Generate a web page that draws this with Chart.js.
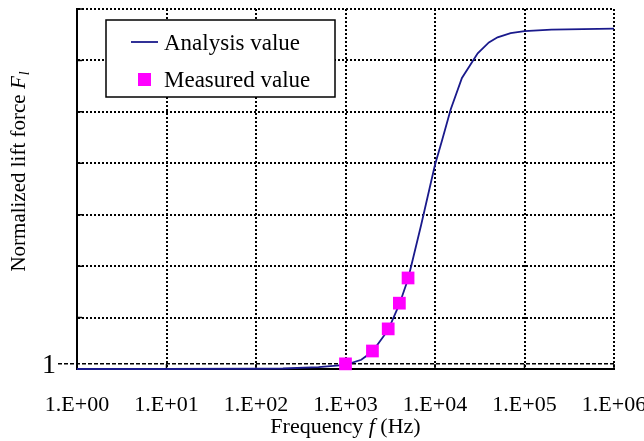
<!DOCTYPE html>
<html>
<head>
<meta charset="utf-8">
<script src="https://cdn.jsdelivr.net/npm/chart.js@4.4.0/dist/chart.umd.min.js"></script>
<style>
  html, body { margin: 0; padding: 0; background: #fff; }
  #wrap { width: 644px; height: 441px; }
</style>
</head>
<body>
<div id="wrap"><canvas id="lift-graph" width="644" height="441"></canvas></div>
<script>
// analysis curve (frequency in Hz, normalized lift force)
const freqAnalysis = [1, 10, 100, 200, 500, 1000, 1500, 2000, 3000, 4000, 5000, 7000,
    10000, 12000, 15000, 20000, 30000, 40000, 50000, 70000, 100000, 200000, 1000000];
const forceAnalysis = [0, 0, 0.05, 0.1, 0.35, 0.8, 1.8, 3.4, 7.6, 12.6, 17.5, 28,
    39.7, 44.5, 50.5, 56.6, 61.4, 63.5, 64.5, 65.3, 65.7, 66.0, 66.2];

// measured points
const freqMeasured = [1000, 2000, 3000, 4000, 5000];
const forceMeasured = [1, 3.5, 7.8, 12.8, 17.7];

// x axis decades and their labels
const decades = [1, 10, 100, 1000, 10000, 100000, 1000000];
const decadeLabels = ["1.E+00", "1.E+01", "1.E+02", "1.E+03", "1.E+04", "1.E+05", "1.E+06"];

// the only labelled level on the y axis
const refLevel = 1;
const refLabel = "1";

const seriesNames = ["Analysis value", "Measured value"];
const lineColor = "#1a1a8c";
const markColor = "#ff00ff";
const serif = "'Liberation Serif', 'Times New Roman', serif";

const dotted = { color: "#000", lineWidth: 2, drawTicks: false, tickLength: 0 };

function toPoints(xs, ys) {
    return xs.map((x, i) => ({ x: x, y: ys[i] }));
}

const decorations = {
    id: "decorations",
    beforeDatasetsDraw(chart) {
        const ctx = chart.ctx;
        const xs = chart.scales.x, ys = chart.scales.y;
        const area = chart.chartArea;
        ctx.save();

        // small inside ticks on the solid axes
        ctx.strokeStyle = "#000";
        ctx.lineWidth = 1.5;
        ctx.beginPath();
        decades.forEach(v => {
            const px = xs.getPixelForValue(v);
            ctx.moveTo(px, area.bottom);
            ctx.lineTo(px, area.bottom - 5);
        });
        ys.ticks.forEach(t => {
            const py = ys.getPixelForValue(t.value);
            ctx.moveTo(area.left, py);
            ctx.lineTo(area.left + 5, py);
        });
        ctx.stroke();

        // dashed reference line at F = 1
        const y1 = ys.getPixelForValue(refLevel);
        ctx.setLineDash([4, 2]);
        ctx.lineWidth = 1.5;
        ctx.beginPath();
        ctx.moveTo(58, y1);
        ctx.lineTo(area.right, y1);
        ctx.stroke();
        ctx.setLineDash([]);

        ctx.fillStyle = "#000";
        ctx.font = "28px " + serif;
        ctx.textAlign = "right";
        ctx.textBaseline = "alphabetic";
        ctx.fillText(refLabel, 56, y1 + 9);
        ctx.restore();
    },
    afterDraw(chart) {
        const ctx = chart.ctx;
        const xs = chart.scales.x;
        const area = chart.chartArea;
        const ds = chart.data.datasets;
        ctx.save();
        ctx.fillStyle = "#000";

        // x tick labels
        ctx.font = "22px " + serif;
        ctx.textAlign = "center";
        ctx.textBaseline = "alphabetic";
        decades.forEach((v, i) => {
            ctx.fillText(decadeLabels[i], xs.getPixelForValue(v), 411);
        });

        // x axis title: Frequency f (Hz)
        const parts = [["Frequency ", ""], ["f", "italic "], [" (Hz)", ""]];
        ctx.textAlign = "left";
        let total = 0;
        parts.forEach(p => { ctx.font = p[1] + "22px " + serif; total += ctx.measureText(p[0]).width; });
        let cx = (area.left + area.right) / 2 - total / 2;
        parts.forEach(p => {
            ctx.font = p[1] + "22px " + serif;
            ctx.fillText(p[0], cx, 433);
            cx += ctx.measureText(p[0]).width;
        });

        // y axis title: Normalized lift force F_l
        ctx.save();
        ctx.translate(25, 172);
        ctx.rotate(-Math.PI / 2);
        ctx.font = "21px " + serif;
        const mainTxt = "Normalized lift force ";
        const w1 = ctx.measureText(mainTxt).width;
        ctx.font = "italic 21px " + serif;
        const w2 = ctx.measureText("F").width;
        ctx.font = "italic 14px " + serif;
        const w3 = ctx.measureText("l").width;
        let tx = -(w1 + w2 + w3) / 2;
        ctx.font = "21px " + serif;
        ctx.fillText(mainTxt, tx, 0);
        tx += w1;
        ctx.font = "italic 21px " + serif;
        ctx.fillText("F", tx, 0);
        tx += w2;
        ctx.font = "italic 14px " + serif;
        ctx.fillText("l", tx + 1, 4);
        ctx.restore();

        // legend box
        ctx.fillStyle = "#fff";
        ctx.fillRect(106, 20, 229, 77);
        ctx.strokeStyle = "#000";
        ctx.lineWidth = 1.5;
        ctx.strokeRect(106, 20, 229, 77);

        ctx.strokeStyle = ds[0].borderColor;
        ctx.lineWidth = ds[0].borderWidth;
        ctx.beginPath();
        ctx.moveTo(131, 42);
        ctx.lineTo(158, 42);
        ctx.stroke();

        ctx.fillStyle = ds[1].backgroundColor;
        ctx.fillRect(138, 73, 13, 13);

        ctx.fillStyle = "#000";
        ctx.font = "23px " + serif;
        ctx.textAlign = "left";
        ctx.fillText(ds[0].label, 164, 50);
        ctx.fillText(ds[1].label, 164, 87);

        ctx.restore();
    }
};

new Chart(document.getElementById("lift-graph"), {
    type: "line",
    data: {
        datasets: [{
            label: seriesNames[0],
            data: toPoints(freqAnalysis, forceAnalysis),
            borderColor: lineColor,
            backgroundColor: lineColor,
            borderWidth: 1.8,
            pointRadius: 0,
            tension: 0,
            fill: false,
            order: 2
        }, {
            label: seriesNames[1],
            data: toPoints(freqMeasured, forceMeasured),
            showLine: false,
            pointStyle: "rect",
            pointRadius: 9,
            pointBorderWidth: 0,
            borderColor: markColor,
            backgroundColor: markColor,
            order: 1
        }]
    },
    options: {
        responsive: false,
        animation: false,
        clip: false,
        layout: { padding: { top: 8, right: 30, left: 0, bottom: 0 } },
        plugins: { legend: { display: false }, tooltip: { enabled: false } },
        scales: {
            x: {
                type: "logarithmic",
                min: 1,
                max: 1000000,
                afterBuildTicks(scale) { scale.ticks = decades.map(v => ({ value: v })); },
                afterFit(scale) { scale.height = 72; },
                ticks: { display: false },
                grid: dotted,
                border: { display: true, color: "#000", width: 2, dash: [2, 2] }
            },
            y: {
                min: 0,
                max: 70,
                ticks: { display: false, stepSize: 10 },
                afterFit(scale) { scale.width = 77; },
                grid: dotted,
                border: { display: true, color: "#000", width: 2, dash: [2, 2] }
            }
        }
    },
    plugins: [decorations]
});
</script>
</body>
</html>
